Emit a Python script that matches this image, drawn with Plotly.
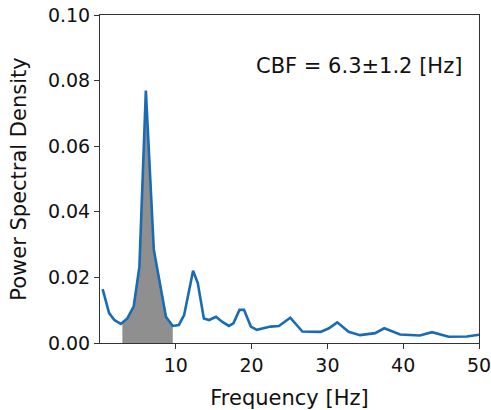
import numpy as np
import plotly.graph_objects as go

freq = [0.35, 1.2, 1.9, 2.75, 3.6, 4.45, 5.2, 6.05, 7.1, 7.8, 8.7, 9.6, 10.4, 11.1,
        12.28, 12.9, 13.7, 14.4, 15.3, 16.1, 17.0, 17.6, 18.4, 19.0, 19.9, 20.7,
        22.5, 23.6, 25.1, 26.7, 29.1, 30.2, 31.3, 32.8, 34.3, 36.3, 37.5, 39.6,
        42.2, 43.8, 46.0, 48.4, 50.0]
psd = [0.0164, 0.0091, 0.0070, 0.0058, 0.0075, 0.0112, 0.0233, 0.0770, 0.0284,
       0.0192, 0.0080, 0.0052, 0.0055, 0.0085, 0.0220, 0.0183, 0.0075, 0.0070,
       0.0080, 0.0065, 0.0052, 0.0060, 0.0101, 0.0101, 0.0050, 0.0040, 0.0050,
       0.0052, 0.0077, 0.0035, 0.0034, 0.0045, 0.0063, 0.0034, 0.0024, 0.0030,
       0.0045, 0.0026, 0.0023, 0.0033, 0.0019, 0.0020, 0.0025]

fill_lo = 2.95
fill_hi = 9.6
cbf_text = "CBF = 6.3±1.2 [Hz]"
x_ticks = [10, 20, 30, 40, 50]
y_ticks = [0.0, 0.02, 0.04, 0.06, 0.08, 0.10]

f = np.array(freq)
p = np.array(psd)
mask = (f > fill_lo) & (f < fill_hi)
fx = np.concatenate([[fill_lo], f[mask], [fill_hi]])
fy = np.concatenate([[np.interp(fill_lo, f, p)], p[mask], [np.interp(fill_hi, f, p)]])

fig = go.Figure()
fig.add_trace(go.Scatter(x=fx, y=fy, mode="lines", fill="tozeroy",
                         fillcolor="#8f8f8f", line=dict(width=0), hoverinfo="skip"))
fig.add_trace(go.Scatter(x=freq, y=psd, mode="lines",
                         line=dict(color="#1a6bb5", width=2.6)))

axis_common = dict(showline=True, linecolor="#333333", linewidth=1, mirror=True,
                   ticks="outside", ticklen=5, tickcolor="#333333", showgrid=False,
                   zeroline=False, automargin=False, ticklabeloverflow="allow",
                   tickfont=dict(size=19, color="#111111"))
fig.update_xaxes(range=[0, 50], tickvals=x_ticks,
                 title=dict(text="Frequency [Hz]", font=dict(size=21, color="#111111")),
                 **axis_common)
fig.update_yaxes(range=[0, 0.10], tickvals=y_ticks, tickformat=".2f",
                 title=dict(text="Power Spectral Density", font=dict(size=21, color="#111111")),
                 **axis_common)

fig.add_annotation(x=0.96, y=0.845, xref="paper", yref="paper", xanchor="right",
                   yanchor="middle", text=cbf_text, showarrow=False,
                   font=dict(size=21, color="#111111"))

fig.update_layout(width=491, height=410, showlegend=False,
                  margin=dict(l=100, r=12, t=15, b=67),
                  plot_bgcolor="white", paper_bgcolor="white",
                  font=dict(family="DejaVu Sans"))
fig.write_html("out.html", config={"displayModeBar": False},
               post_script="document.body.style.margin='0';document.body.style.overflow='hidden';")
